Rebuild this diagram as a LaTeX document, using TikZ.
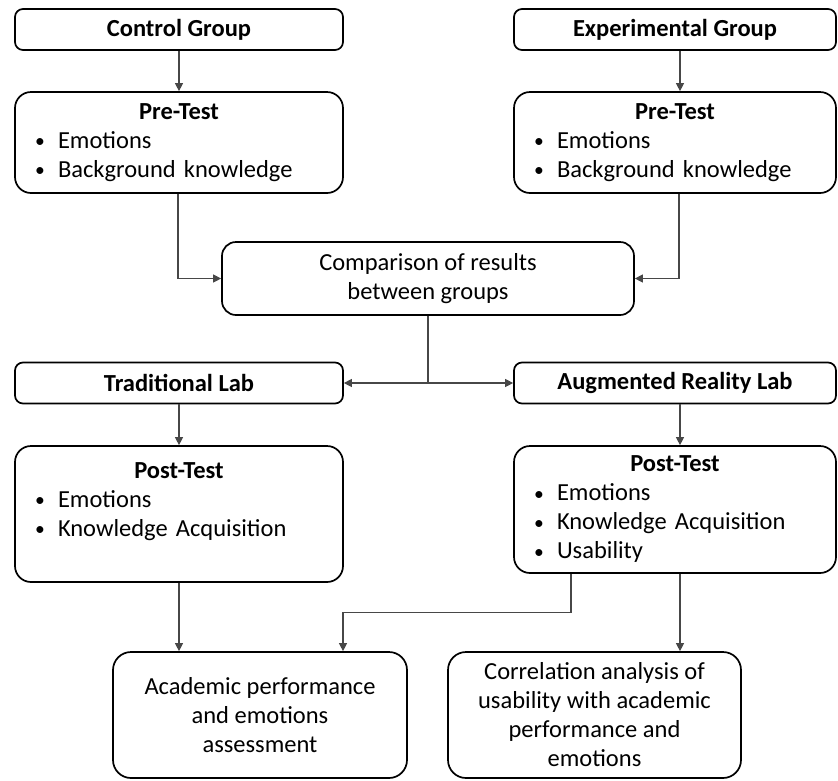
\documentclass[tikz,border=0pt]{standalone}
\usepackage{fontspec}
\setmainfont{Carlito}
\usetikzlibrary{arrows.meta,calc}
\newcommand\bitem[1]{\makebox[23pt][l]{\raisebox{0.5pt}{\scalebox{0.8}{\textbullet}}}#1}
\newcommand\ttl[2]{\makebox[#1][c]{\textbf{#2}}}
\begin{document}
\begin{tikzpicture}[x=1pt,y=-1pt,
  every node/.style={font=\fontsize{24.5}{29}\selectfont},
  hdr/.style={draw=black,line width=1.7pt,rounded corners=8pt,minimum height=41pt,inner sep=0pt,font=\fontsize{24.5}{29}\selectfont\bfseries},
  listbox/.style={draw=black,line width=1.7pt,rounded corners=16pt,inner xsep=20pt,inner ysep=0pt,align=left},
  resbox/.style={draw=black,line width=1.7pt,rounded corners=18pt,inner sep=0pt,align=center},
  conn/.style={draw=black!72,line width=1.2pt,-{Triangle[length=8pt,width=8pt]}},
  plain/.style={draw=black!72,line width=1.2pt}]
\useasboundingbox (0,0) rectangle (838,780);
% headers
\node[hdr,minimum width=328pt] (CG) at (179,29.5) {Control Group};
\node[hdr,minimum width=322pt] (EG) at (675,29.5) {Experimental Group};
% pre-tests
\node[listbox,text width=288pt,minimum height=101pt] (PreL) at (179,142.5)
  {\ttl{288pt}{Pre-Test}\\ \bitem{Emotions}\\ \bitem{Background knowledge}};
\node[listbox,text width=282pt,minimum height=101pt] (PreR) at (675,142.5)
  {\ttl{282pt}{Pre-Test}\\ \bitem{Emotions}\\ \bitem{Background knowledge}};
% comparison
\node[draw=black,line width=1.7pt,rounded corners=14pt,inner sep=0pt,align=center,minimum width=412pt,minimum height=73pt] (Comp) at (428,278.5)
  {Comparison of results\\ between groups};
% labs
\node[hdr,minimum width=328pt] (TL) at (179,383) {Traditional Lab};
\node[hdr,minimum width=322pt] (AR) at (675,383) {Augmented Reality Lab};
% post-tests
\node[listbox,text width=288pt,minimum height=136pt] (PostL) at (179,514)
  {\ttl{288pt}{Post-Test}\\ \bitem{Emotions}\\ \bitem{Knowledge Acquisition}\\ ~};
\node[listbox,text width=282pt,minimum height=127pt] (PostR) at (675,509.5)
  {\ttl{282pt}{Post-Test}\\ \bitem{Emotions}\\ \bitem{Knowledge Acquisition}\\ \bitem{Usability}};
% results
\node[resbox,minimum width=294pt,minimum height=126pt] (Acad) at (260,715)
  {Academic performance\\ and emotions\\ assessment};
\node[resbox,minimum width=293pt,minimum height=126pt] (Corr) at (594.5,715)
  {Correlation analysis of\\ usability with academic\\ performance and\\ emotions};
% connectors
\draw[conn] (CG.south) -- (PreL.north);
\draw[conn] ([xshift=5pt]EG.south) -- ([xshift=5pt]PreR.north);
\draw[conn] ([xshift=-1pt]PreL.south) |- (Comp.west);
\draw[conn] ([xshift=4pt]PreR.south) |- (Comp.east);
\draw[plain] (Comp.south) -- (Comp.south |- TL.east);
\draw[conn] (Comp.south |- TL.east) -- (TL.east);
\draw[conn] (Comp.south |- TL.east) -- (AR.west);
\draw[conn] (TL.south) -- (PostL.north);
\draw[conn] ([xshift=5pt]AR.south) -- ([xshift=5pt]PostR.north);
\draw[conn] (PostL.south) -- (PostL.south |- Acad.north);
\draw[conn] ([xshift=-104pt]PostR.south) -- ++(0,39) -| ([xshift=83pt]Acad.north);
\draw[conn] ([xshift=5pt]PostR.south) -- ([xshift=5pt]PostR.south |- Corr.north);
\end{tikzpicture}
\end{document}
